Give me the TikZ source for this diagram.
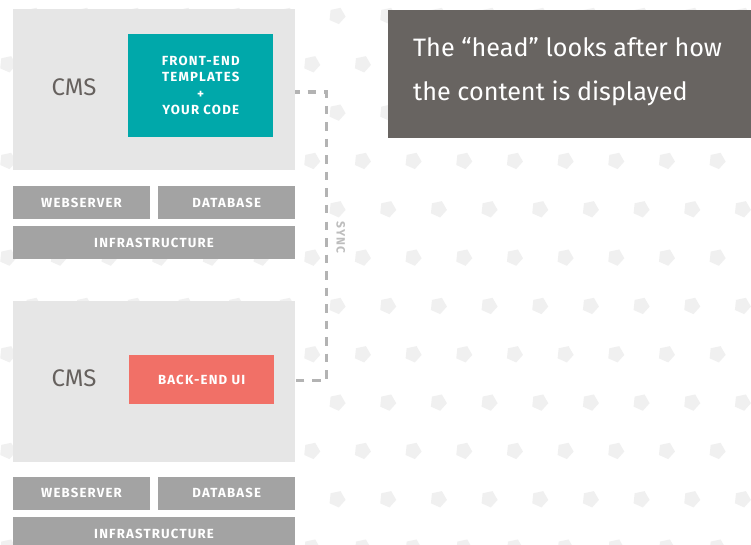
\documentclass[tikz,border=0pt]{standalone}
\usepackage{fontspec}
\setmainfont{Fira Sans}
\newfontfamily\lblfont[LetterSpace=9]{Fira Sans}
\definecolor{pentc}{HTML}{F0F0F0}
\definecolor{cmsc}{HTML}{E6E6E6}
\definecolor{tealc}{HTML}{00A8AA}
\definecolor{salmc}{HTML}{F17067}
\definecolor{grayc}{HTML}{A3A3A3}
\definecolor{darkc}{HTML}{686461}
\definecolor{cmstxt}{HTML}{66615E}
\definecolor{dashc}{HTML}{B3B3B3}
\definecolor{synctxt}{HTML}{BDBDBD}
\tikzset{
  pent/.style={fill=pentc},
  blk/.style={inner sep=0pt, anchor=north west, draw=none},
  cmsbox/.style={blk, fill=cmsc, minimum width=282.3pt, minimum height=160.5pt},
  lbl/.style={blk, text=white, font=\lblfont\bfseries\fontsize{13.2}{16.5}\selectfont, align=center},
  srvbox/.style={lbl, fill=grayc, minimum height=32.7pt},
  cmslbl/.style={text=cmstxt, font=\fontsize{24}{24}\selectfont, inner sep=0pt},
  headtxt/.style={text=white, font=\fontsize{25.2}{25.2}\selectfont, inner sep=0pt, anchor=base west},
  syncline/.style={draw=dashc, line width=3.3pt, dash pattern=on 8.5pt off 8pt, dash phase=4.2pt},
  synclbl/.style={text=synctxt, font=\lblfont\bfseries\fontsize{12}{12}\selectfont, inner sep=0pt, rotate=-90}
}
\begin{document}
\begin{tikzpicture}[x=1pt,y=-1pt]
\useasboundingbox (0,0) rectangle (751,545);
\fill[white] (0,0) rectangle (751,545);
% background pentagons
\foreach \k in {0,...,11}{
  \pgfmathsetmacro\yy{15.7+48.33*\k}
  \pgfmathsetmacro\xo{mod(\k,2)==0 ? 33 : 7.7}
  \foreach \j in {0,...,15}{
    \pgfmathsetmacro\xx{\xo+50.67*\j}
    \fill[pent] (\xx,\yy) +(78:8.6) -- +(150:8.6) -- +(222:8.6) -- +(294:8.6) -- +(6:8.6) -- cycle;
  }
}
% top stack
\node[cmsbox] (cms1) at (12.7,9) {};
\node[cmslbl] (cmst1) at (74,87) {CMS};
\node[lbl, fill=tealc, minimum width=145pt, minimum height=102.7pt] (front) at (128,34) {FRONT-END\\TEMPLATES\\+\\YOUR CODE};
\node[srvbox, minimum width=137.3pt] (web1) at (12.7,186) {WEBSERVER};
\node[srvbox, minimum width=137pt] (db1) at (158,186) {DATABASE};
\node[srvbox, minimum width=282.3pt] (inf1) at (12.7,226) {INFRASTRUCTURE};
% bottom stack
\node[cmsbox, minimum height=161pt] (cms2) at (12.7,300.7) {};
\node[cmslbl] (cmst2) at (74,378.3) {CMS};
\node[lbl, fill=salmc, minimum width=145pt, minimum height=48.7pt] (back) at (129,355) {BACK-END UI};
\node[srvbox, minimum width=137.3pt, minimum height=33pt] (web2) at (12.7,476.7) {WEBSERVER};
\node[srvbox, minimum width=137pt, minimum height=33pt] (db2) at (158,476.7) {DATABASE};
\node[srvbox, minimum width=282.3pt, minimum height=33pt] (inf2) at (12.7,517) {INFRASTRUCTURE};
% sync connector
\coordinate (c1) at (326.7,92);
\coordinate (c2) at (326.7,380.7);
\draw[syncline] (cms1.east |- c1) -- (c1) -- (c2) -- (cms2.east |- c2);
\node[synclbl] (sync) at (340.7,237.5) {SYNC};
% head note
\node[blk, fill=darkc, minimum width=370pt, minimum height=128.3pt] (note) at (387.7,10) {};
\node[headtxt] (h1) at (413,56.7) {The “head” looks after how};
\node[headtxt] (h2) at (413,101) {the content is displayed};
\end{tikzpicture}
\end{document}
